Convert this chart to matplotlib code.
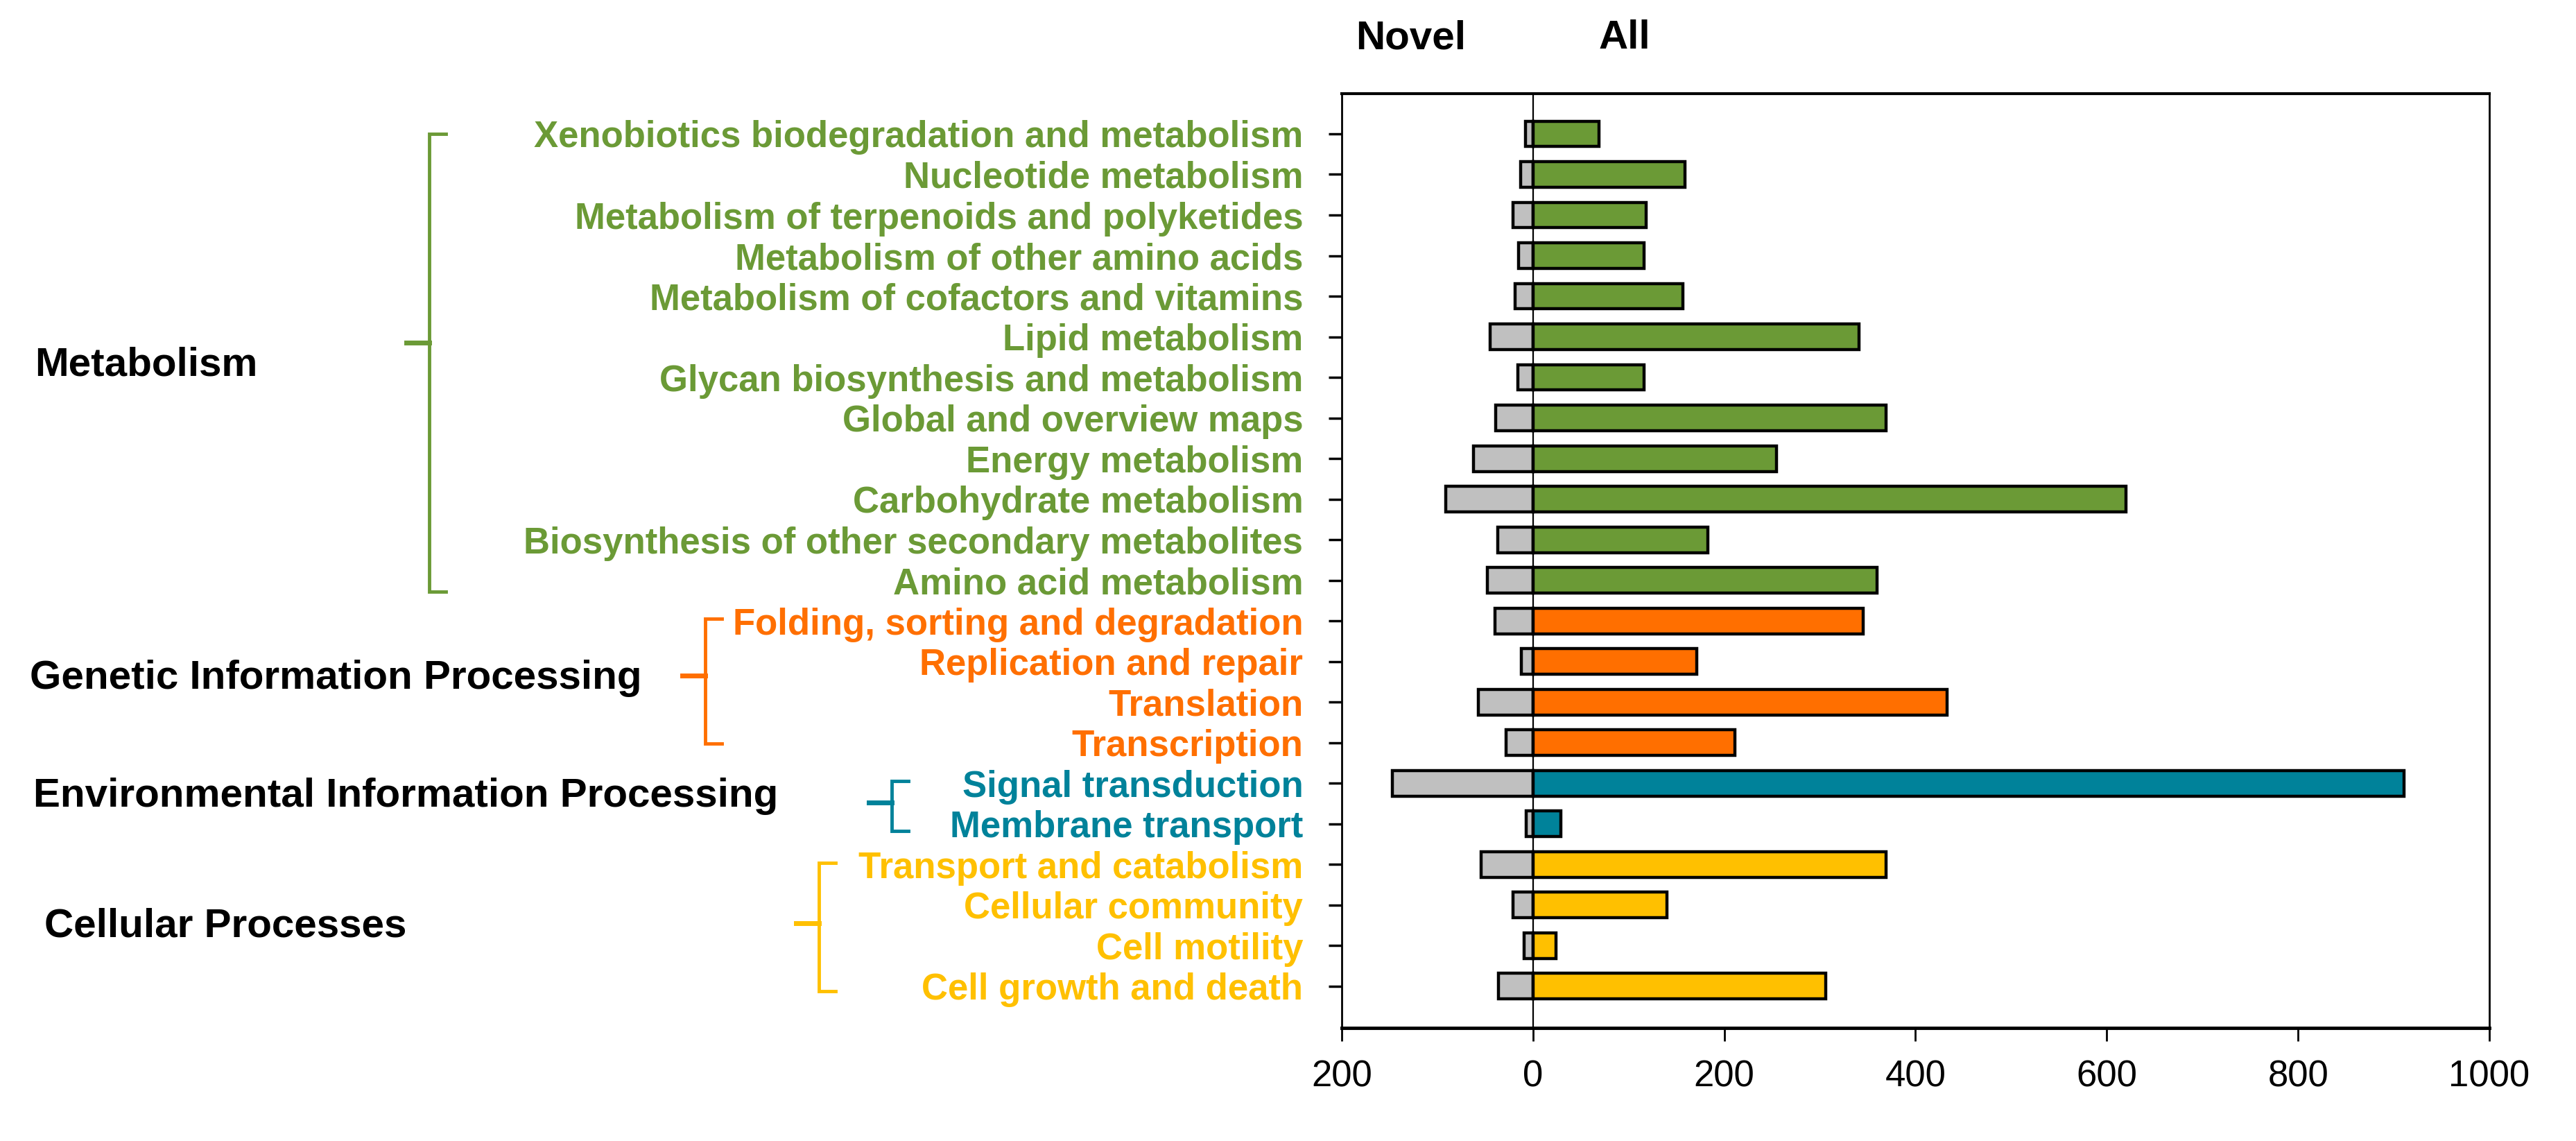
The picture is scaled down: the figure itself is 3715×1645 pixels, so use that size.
import matplotlib.pyplot as plt
from matplotlib.transforms import blended_transform_factory

plt.rcParams['font.family'] = ['Liberation Sans', 'DejaVu Sans']

# pathway categories, top to bottom
categories = [
    "Xenobiotics biodegradation and metabolism",
    "Nucleotide metabolism",
    "Metabolism of terpenoids and polyketides",
    "Metabolism of other amino acids",
    "Metabolism of cofactors and vitamins",
    "Lipid metabolism",
    "Glycan biosynthesis and metabolism",
    "Global and overview maps",
    "Energy metabolism",
    "Carbohydrate metabolism",
    "Biosynthesis of other secondary metabolites",
    "Amino acid metabolism",
    "Folding, sorting and degradation",
    "Replication and repair",
    "Translation",
    "Transcription",
    "Signal transduction",
    "Membrane transport",
    "Transport and catabolism",
    "Cellular community",
    "Cell motility",
    "Cell growth and death",
]
all_counts = [69, 159, 118, 116, 157, 341, 116, 369, 255, 620, 183, 360,
              345, 171, 433, 211, 911, 29, 369, 140, 24, 306]
novel_counts = [8, 13, 21, 15, 19, 45, 16, 39, 62, 91, 37, 48,
                40, 12, 57, 28, 147, 7, 54, 21, 9, 36]
group_of = [0] * 12 + [1] * 4 + [2] * 2 + [3] * 4

groups = ["Metabolism", "Genetic Information Processing",
          "Environmental Information Processing", "Cellular Processes"]
group_colors = ["#6B9A36", "#FF6F00", "#00829A", "#FFC000"]

xticks = [-200, 0, 200, 400, 600, 800, 1000]
xtick_labels = ["200", "0", "200", "400", "600", "800", "1000"]

fig = plt.figure(figsize=(37.16, 16.45), dpi=100)
ax = fig.add_axes([0.5207, 0.0991, 0.4454, 0.8188])

ypos = list(range(len(categories)))
bar_colors = [group_colors[g] for g in group_of]
ax.barh(ypos, [-v for v in novel_counts], height=0.63, color="#C0C0C0",
        edgecolor="black", linewidth=3.2, zorder=2)
ax.barh(ypos, all_counts, height=0.63, color=bar_colors,
        edgecolor="black", linewidth=3.2, zorder=2)
ax.axvline(0, color="black", linewidth=1.6, zorder=3)

ax.set_xlim(-200, 1000)
ax.set_ylim(22.03, -0.99)
ax.set_xticks(xticks)
ax.set_xticklabels(xtick_labels, fontsize=38)
ax.set_yticks(ypos)
ax.set_yticklabels(categories, fontsize=38, fontweight="bold")
for lbl, g in zip(ax.get_yticklabels(), group_of):
    lbl.set_color(group_colors[g])
ax.tick_params(axis="y", length=14, width=2.5, pad=26)
ax.tick_params(axis="x", length=14, width=2, pad=19)
for sp in ax.spines.values():
    sp.set_linewidth(2)
ax.spines["bottom"].set_linewidth(3.5)
ax.spines["top"].set_linewidth(3)

# header labels above the axes
ax.text(-128, -2.10, "Novel", ha="center", va="baseline", fontsize=42,
        fontweight="bold", clip_on=False)
ax.text(96, -2.10, "All", ha="center", va="baseline", fontsize=42,
        fontweight="bold", clip_on=False)

# group brackets and labels
tr = blended_transform_factory(fig.transFigure, ax.transData)
W = 3716.0
brackets = [  # x px, top, bottom, mid, label baseline y, label x px
    (619, 0.0, 11.28, 5.14, 5.95, 50),
    (1017, 11.94, 15.02, 13.35, 13.67, 43),
    (1286, 15.94, 17.17, 16.47, 16.58, 48),
    (1181, 17.96, 21.12, 19.45, 19.79, 64),
]
for (bx, top, bot, mid, ly, lx), name, col in zip(brackets, groups, group_colors):
    x0 = bx / W
    xr = (bx + 24) / W
    xl = (bx - 33) / W
    ax.plot([xr, x0, x0, xr], [top, top, bot, bot], color=col, lw=3.5,
            transform=tr, clip_on=False, solid_joinstyle="miter")
    ax.plot([xl, x0], [mid, mid], color=col, lw=5, transform=tr, clip_on=False)
    ax.text(lx / W, ly, name, transform=tr, ha="left", va="baseline",
            fontsize=42, fontweight="bold", color="black")

fig.savefig("out.png", dpi=100)
